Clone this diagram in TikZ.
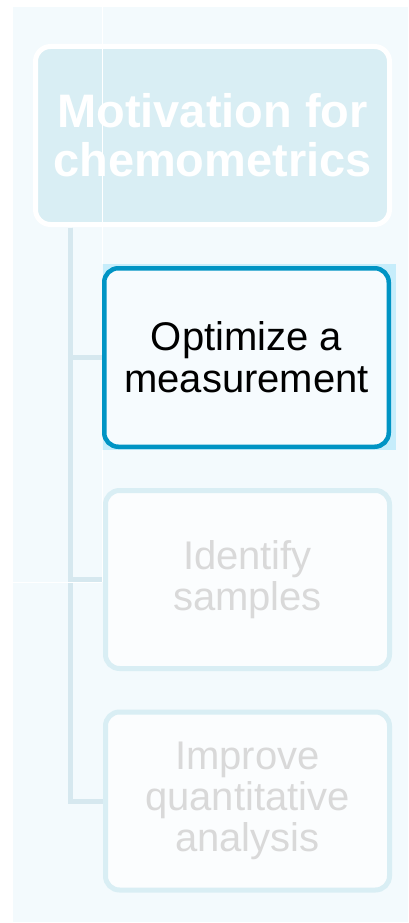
\documentclass[tikz,border=0pt]{standalone}
\usepackage{fontspec}
\setmainfont{Liberation Sans}
\usepackage{tikz}
\usetikzlibrary{backgrounds}

\definecolor{bgblue}{HTML}{F3FAFD}
\definecolor{rootfill}{HTML}{D9EEF4}
\definecolor{connblue}{HTML}{D6E8EF}
\definecolor{hiblue}{HTML}{C6EDFB}
\definecolor{activeblue}{HTML}{0094C4}
\definecolor{activefill}{HTML}{F6FBFE}
\definecolor{dimborder}{HTML}{D9EEF4}
\definecolor{dimfill}{HTML}{FBFDFE}
\definecolor{dimtext}{HTML}{D9D9D9}

\begin{document}
\begin{tikzpicture}[x=1pt,y=-1pt,
    rootbox/.style={draw=white, line width=5pt, fill=rootfill, rounded corners=15pt,
        minimum width=354pt, minimum height=178pt, inner sep=0pt, align=center,
        text=white, font=\fontsize{47}{49}\selectfont\bfseries},
    activebox/.style={draw=activeblue, line width=4.5pt, fill=activefill, rounded corners=14pt,
        minimum width=284.5pt, minimum height=178.5pt, inner sep=0pt, align=center,
        text=black, font=\fontsize{40}{42}\selectfont},
    dimbox/.style={draw=dimborder, line width=5pt, fill=dimfill, rounded corners=14pt,
        minimum width=284pt, minimum height=178pt, inner sep=0pt, align=center,
        text=dimtext, font=\fontsize{40}{41}\selectfont},
    conn/.style={draw=connblue, line width=5pt}]

        % Nodes
        \node[rootbox] (root) at (212.5,135.5) {Motivation for\\chemometrics};
        \node[activebox] (optimize) at (246.5,357.5) {Optimize a\\measurement};
        \node[dimbox] (identify) at (247.5,579.5) {Identify\\samples};
        \node[dimbox] (improve) at (247.5,801) {Improve\\quantitative\\analysis};

        \begin{pgfonlayer}{background}
            % Background
            \fill[bgblue] (13,7) rectangle (408,922);
            % Highlight behind the current item
            \fill[hiblue] (103,264) rectangle (396,450);
            % Connectors
            \coordinate (trunk) at (70.5,227.5);
            \foreach \n in {optimize,identify,improve}
                \draw[conn] (trunk) |- (\n.west);
        \end{pgfonlayer}

        % Seams
        \draw[white, line width=0.8pt] (102.3,7) -- (102.3,264) (102.3,450) -- (102.3,582);
        \draw[white, line width=0.8pt] (13,582.5) -- (102.3,582.5);

        \useasboundingbox (0,0) rectangle (408,923);
\end{tikzpicture}
\end{document}
